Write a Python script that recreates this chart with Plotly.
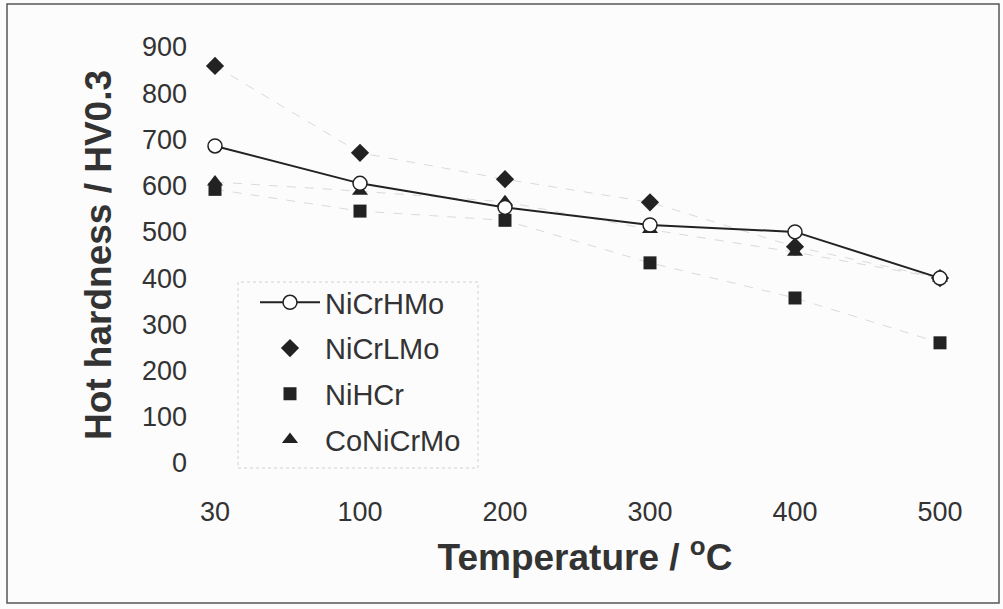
import plotly.graph_objects as go

temps = ["30", "100", "200", "300", "400", "500"]
nicrhmo = [686, 605, 553, 515, 500, 400]
nicrlmo = [859, 671, 614, 564, 468, 400]
nihcr = [592, 545, 525, 433, 357, 260]
conicrmo = [608, 588, 565, 505, 456, 400]

xi = list(range(len(temps)))
ink = "#222222"
txt = "#333333"
font = "Liberation Sans, Arial, sans-serif"

fig = go.Figure()

# faint connecting lines of the marker-only series
for vals in (nicrlmo, nihcr, conicrmo):
    fig.add_trace(go.Scatter(x=xi, y=vals, mode="lines", showlegend=False,
                             line=dict(color="#dadada", width=1, dash="dash"),
                             hoverinfo="skip"))

fig.add_trace(go.Scatter(x=xi, y=nicrlmo, mode="markers", name="NiCrLMo",
                         legendgroup="b", legendrank=2,
                         marker=dict(symbol="diamond", size=14, color=ink)))
fig.add_trace(go.Scatter(x=xi, y=nihcr, mode="markers", name="NiHCr",
                         legendgroup="c", legendrank=3,
                         marker=dict(symbol="square", size=13, color=ink)))
fig.add_trace(go.Scatter(x=xi, y=conicrmo, mode="markers", name="CoNiCrMo",
                         legendgroup="d", legendrank=4,
                         marker=dict(symbol="triangle-up", size=14, color=ink)))
fig.add_trace(go.Scatter(x=xi, y=nicrhmo, mode="lines+markers", name="NiCrHMo",
                         legendgroup="a", legendrank=1,
                         line=dict(color=ink, width=2),
                         marker=dict(symbol="circle", size=14, color="white",
                                     line=dict(color=ink, width=1.5))))

W, H = 1003, 609
L, R, T, B = 200, 33, 47, 146
pw, ph = W - L - R, H - T - B
def px(x): return (x - L) / pw
def py(y): return (H - B - y) / ph

fig.update_layout(
    width=W, height=H,
    margin=dict(l=L, r=R, t=T, b=B),
    paper_bgcolor="#fcfcfc", plot_bgcolor="#fcfcfc",
    font=dict(family=font, size=27, color=txt),
    showlegend=True,
    legend=dict(x=px(255), y=py(277), xanchor="left", yanchor="top",
                bgcolor="rgba(0,0,0,0)", borderwidth=0,
                font=dict(family=font, size=29, color=txt),
                traceorder="grouped", tracegroupgap=5, itemwidth=60),
    xaxis=dict(range=[-(215 - L) / 145, 5 + (W - R - 940) / 145], tickvals=xi, ticktext=temps,
               showgrid=False, zeroline=False, showline=False, ticks="",
               ticklabelstandoff=30,
               title=dict(text="<b>Temperature / <sup>o</sup>C</b>", standoff=18,
                          font=dict(family=font, size=37, color=txt))),
    yaxis=dict(range=[0, 900], dtick=100, showgrid=False, zeroline=False,
               showline=False, ticks="", ticklabelstandoff=12,
               title=dict(text="<b>Hot hardness / HV0.3</b>", standoff=18,
                          font=dict(family=font, size=37, color=txt))),
    shapes=[
        dict(type="rect", xref="paper", yref="paper",
             x0=px(7), x1=px(999), y0=py(603), y1=py(4),
             line=dict(color="#555555", width=1.5)),
        dict(type="rect", xref="paper", yref="paper",
             x0=px(238), x1=px(478), y0=py(468), y1=py(282),
             line=dict(color="#d0d0d0", width=1, dash="dot")),
    ],
)

fig.write_html("out.html", config={"displayModeBar": False},
               post_script="document.body.style.margin='0';")
